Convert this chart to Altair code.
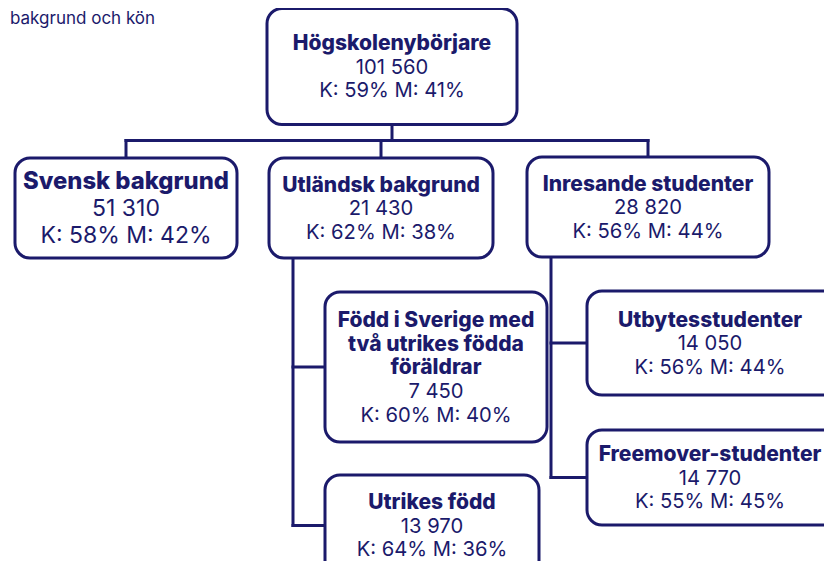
import altair as alt
import pandas as pd

# ---------------- data ----------------
names = [
    "Högskolenybörjare",
    "Svensk bakgrund",
    "Utländsk bakgrund",
    "Inresande studenter",
    "Född i Sverige med\ntvå utrikes födda\nföräldrar",
    "Utrikes född",
    "Utbytesstudenter",
    "Freemover-studenter",
]
counts = [101560, 51310, 21430, 28820, 7450, 13970, 14050, 14770]
women_pct = [59, 58, 62, 56, 60, 64, 56, 55]
men_pct = [41, 42, 38, 44, 40, 36, 44, 45]
parents = [-1, 0, 0, 0, 2, 2, 3, 3]
title_fragment = "bakgrund och kön"

# ---------------- layout (pixel frame of the page) ----------------
NAVY = "#1b1a6b"
# box edges: left, right, top, bottom
layout = {
    0: (267, 517, 8.5, 124.5),
    1: (15, 237, 158, 258),
    2: (269, 493, 158, 258),
    3: (527, 769, 157, 257),
    4: (325, 547, 292, 442),
    5: (325, 539, 475, 576),
    6: (587, 841, 291, 395),
    7: (587, 841, 430, 525),
}
text_dx = {6: -4, 7: -4}   # keep text of boxes running off the page inside it
# (bold size, regular size)
font_sizes = {i: (21.0, 20.2) for i in range(len(names))}
font_sizes[1] = (23.8, 23.0)
bus_y = 140.5          # horizontal bus below the root
side_offset = 24       # side rail offset for second level

def fmt(n):
    return f"{n:,}".replace(",", " ")

# boxes
box_rows = []
for i, (l, r, t, b) in layout.items():
    box_rows.append(dict(x=l, x2=r, y=t, y2=b))
boxes = pd.DataFrame(box_rows)

# text lines
text_rows = []
for i, name in enumerate(names):
    l, r, t, b = layout[i]
    cx, cy = (l + r) / 2 + text_dx.get(i, 0), (t + b) / 2
    bfs, rfs = font_sizes[i]
    lh = 1.17 * rfs
    lines = [(s, "bold", bfs) for s in name.split("\n")]
    lines.append((fmt(counts[i]), "normal", rfs))
    lines.append((f"K: {women_pct[i]}% M: {men_pct[i]}%", "normal", rfs))
    n = len(lines)
    for k, (s, w, fs) in enumerate(lines):
        text_rows.append(dict(x=cx, y=cy + (k - (n - 1) / 2) * lh + 0.36 * rfs,
                              text=s, weight=w, fs=fs))
texts = pd.DataFrame(text_rows)

# connectors
seg = []
root = layout[0]
rcx = (root[0] + root[1]) / 2
first = [i for i, p in enumerate(parents) if p == 0]
seg.append(dict(x=rcx, x2=rcx, y=root[3], y2=bus_y))
cxs = [(layout[i][0] + layout[i][1]) / 2 for i in first]
seg.append(dict(x=min(cxs), x2=max(cxs), y=bus_y, y2=bus_y))
for i in first:
    cx = (layout[i][0] + layout[i][1]) / 2
    seg.append(dict(x=cx, x2=cx, y=bus_y, y2=layout[i][2]))
for p in set(parents):
    if p <= 0:
        continue
    kids = [i for i, q in enumerate(parents) if q == p]
    rail_x = layout[p][0] + side_offset
    kid_cy = [(layout[k][2] + layout[k][3]) / 2 for k in kids]
    seg.append(dict(x=rail_x, x2=rail_x, y=layout[p][3], y2=max(kid_cy)))
    for k, ky in zip(kids, kid_cy):
        seg.append(dict(x=rail_x, x2=layout[k][0], y=ky, y2=ky))
segs = pd.DataFrame(seg)

W, H = 816, 553
xs = alt.Scale(domain=[8, 8 + W], nice=False, zero=False)
ys = alt.Scale(domain=[8, 8 + H], nice=False, zero=False, reverse=True)

rules = alt.Chart(segs).mark_rule(stroke=NAVY, strokeWidth=3, strokeCap="square").encode(
    x=alt.X("x:Q", scale=xs, axis=None),
    x2="x2:Q",
    y=alt.Y("y:Q", scale=ys, axis=None),
    y2="y2:Q",
)

rects = alt.Chart(boxes).mark_rect(
    cornerRadius=15, fill="white", stroke=NAVY, strokeWidth=3
).encode(
    x=alt.X("x:Q", scale=xs, axis=None),
    x2="x2:Q",
    y=alt.Y("y:Q", scale=ys, axis=None),
    y2="y2:Q",
)

def text_layer(weight, fw):
    return alt.Chart(texts[texts.weight == weight]).mark_text(
        font="Inter", fontWeight=fw, color=NAVY, align="center", baseline="alphabetic"
    ).encode(
        x=alt.X("x:Q", scale=xs, axis=None),
        y=alt.Y("y:Q", scale=ys, axis=None),
        text="text:N",
        size=alt.Size("fs:Q", scale=None),
    )

title_df = pd.DataFrame([dict(x=10, y=24, text=title_fragment)])
title = alt.Chart(title_df).mark_text(
    font="Inter", fontSize=17, color=NAVY, align="left", baseline="alphabetic"
).encode(
    x=alt.X("x:Q", scale=xs, axis=None),
    y=alt.Y("y:Q", scale=ys, axis=None),
    text="text:N",
)

chart = alt.layer(rules, rects, text_layer("bold", 800), text_layer("normal", 400), title).properties(
    width=W, height=H, padding=0, autosize=alt.AutoSizeParams(type="none"), background="white"
).configure_view(stroke=None)

chart.save("out.html", embed_options={"renderer": "svg", "actions": False})
